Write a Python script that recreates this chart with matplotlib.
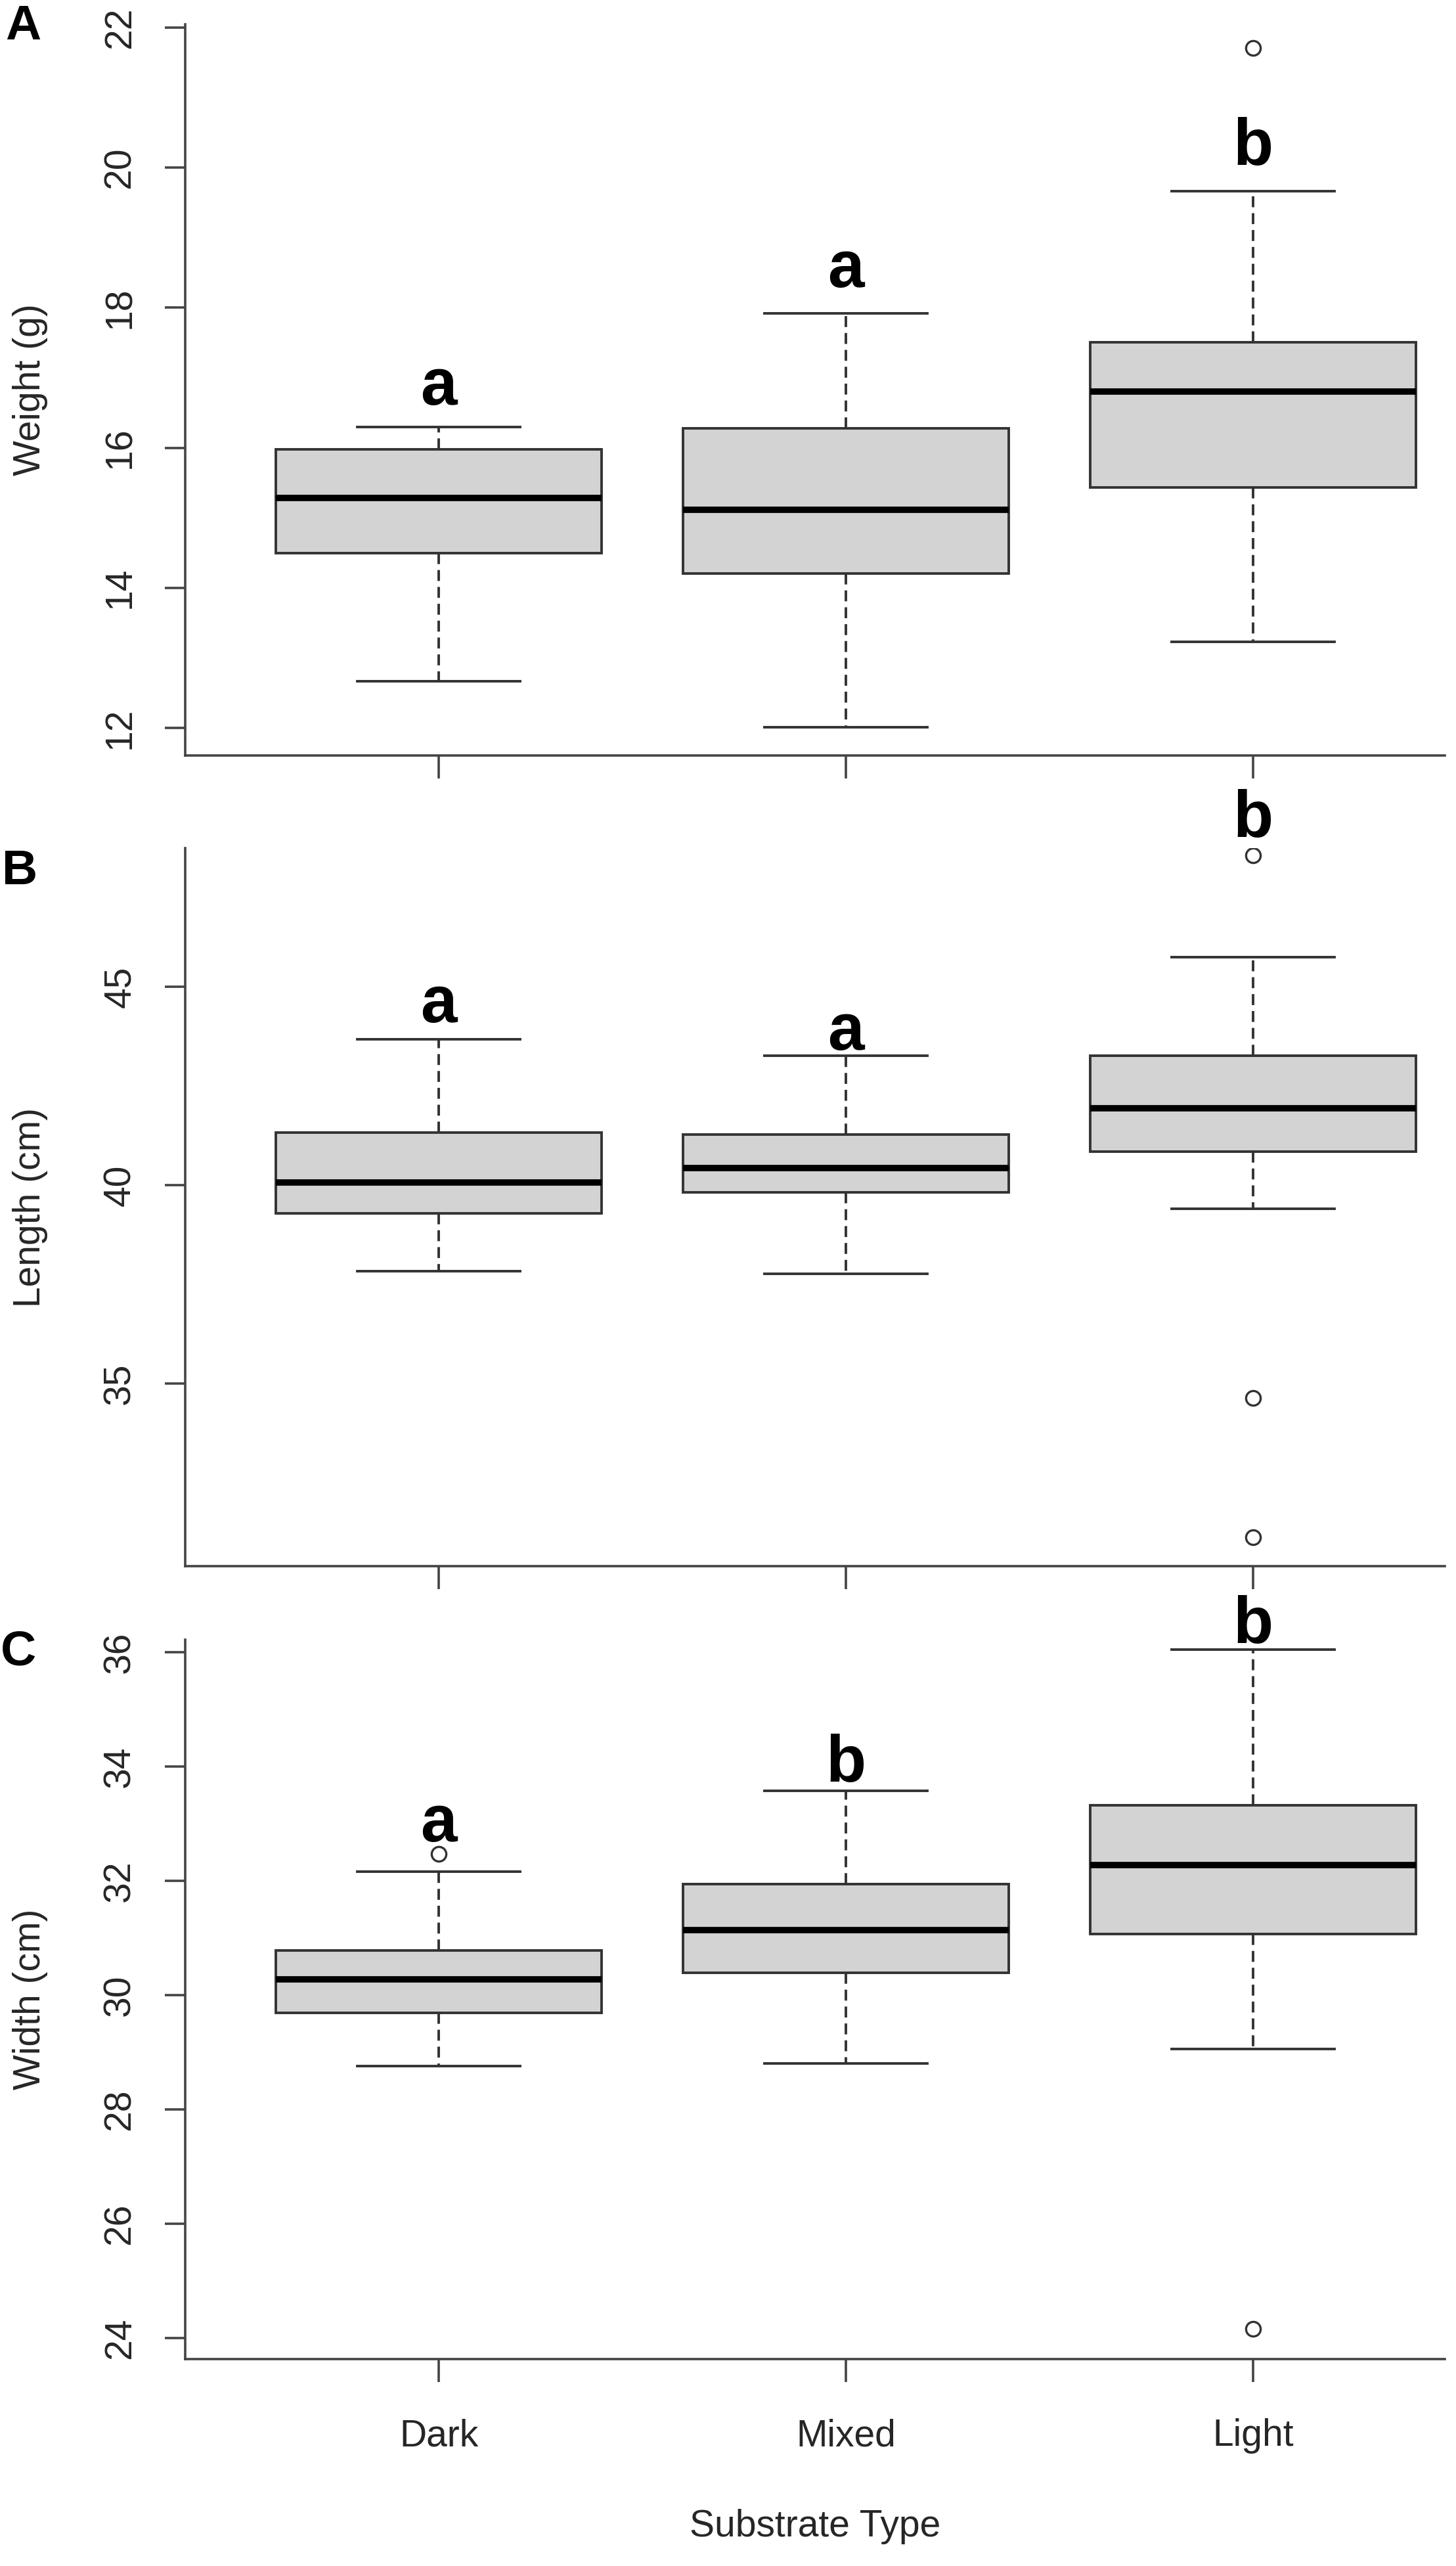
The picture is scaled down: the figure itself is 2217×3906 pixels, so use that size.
import matplotlib
matplotlib.use("Agg")
import matplotlib.pyplot as plt

plt.rcParams['font.family'] = ['Liberation Sans', 'DejaVu Sans']
plt.rcParams['lines.scale_dashes'] = False

# substrate groups
groups = ['Dark', 'Mixed', 'Light']

# box statistics: lower whisker, Q1, median, Q3, upper whisker
weight_lo = [12.67, 12.01, 13.23]
weight_q1 = [14.50, 14.20, 15.43]
weight_med = [15.28, 15.11, 16.80]
weight_q3 = [15.98, 16.28, 17.51]
weight_hi = [16.30, 17.92, 19.66]
weight_out = [[], [], [21.71]]
weight_letters = ['a', 'a', 'b']
weight_letter_y = [16.62, 18.29, 20.04]

length_lo = [37.83, 37.76, 39.41]
length_q1 = [39.29, 39.82, 40.85]
length_med = [40.07, 40.43, 41.94]
length_q3 = [41.33, 41.28, 43.26]
length_hi = [43.68, 43.26, 45.74]
length_out = [[], [], [48.31, 34.63, 31.13]]
length_letters = ['a', 'a', 'b']
length_letter_y = [44.11, 43.41, 48.77]

width_lo = [28.76, 28.80, 29.06]
width_q1 = [29.69, 30.39, 31.07]
width_med = [30.28, 31.14, 32.28]
width_q3 = [30.78, 31.94, 33.32]
width_hi = [32.16, 33.57, 36.05]
width_out = [[32.47], [], [24.16]]
width_letters = ['a', 'b', 'b']
width_letter_y = [32.69, 33.74, 36.16]

W, H = 2217, 3906
fig = plt.figure(figsize=(W / 100, H / 100), dpi=100)

AXIS_COL = '#444444'
TEXT_COL = '#262626'
LINE_COL = '#333333'


def add_panel(top_px, bottom_px, ylim, yticks, lo, q1, med, q3, hi, out,
              letters, letter_y, ylabel, tag, tag_xy, xlabels=False):
    left_px, right_px = 282, 2200
    ax = fig.add_axes([left_px / W, 1 - bottom_px / H,
                       (right_px - left_px) / W, (bottom_px - top_px) / H])
    stats = []
    for i in range(3):
        stats.append(dict(whislo=lo[i], q1=q1[i], med=med[i], q3=q3[i],
                          whishi=hi[i], fliers=out[i]))
    ax.bxp(stats, positions=[1, 2, 3], widths=0.8, capwidths=0.4,
           patch_artist=True,
           boxprops=dict(facecolor='#d3d3d3', edgecolor=LINE_COL, linewidth=2.8),
           whiskerprops=dict(color=LINE_COL, linewidth=2.8, linestyle=(0, (12, 6.5))),
           capprops=dict(color=LINE_COL, linewidth=2.8),
           medianprops=dict(color='black', linewidth=7, solid_capstyle='butt'),
           flierprops=dict(marker='o', markerfacecolor='none',
                           markeredgecolor=LINE_COL, markersize=16,
                           markeredgewidth=2.4))
    ax.set_xlim(0.377, 3.471)
    ax.set_ylim(*ylim)
    ax.set_yticks(yticks)
    ax.set_yticklabels([str(t) for t in yticks], rotation=90, va='center',
                       fontsize=41, color=TEXT_COL)
    ax.set_xticks([1, 2, 3])
    if xlabels:
        ax.set_xticklabels(groups, fontsize=41, color=TEXT_COL)
        ax.set_xlabel('Substrate Type', fontsize=41, color=TEXT_COL, labelpad=60)
    else:
        ax.set_xticklabels([])
    for s in ['top', 'right']:
        ax.spines[s].set_visible(False)
    for s in ['left', 'bottom']:
        ax.spines[s].set_color(AXIS_COL)
        ax.spines[s].set_linewidth(2.6)
    ax.tick_params(axis='y', length=22, width=2.6, color=AXIS_COL, pad=30)
    ax.tick_params(axis='x', length=25, width=2.6, color=AXIS_COL, pad=40)
    ax.set_ylabel(ylabel, fontsize=41, color=TEXT_COL, va='center')
    ax.yaxis.set_label_coords(-0.123, 0.5)
    for i in range(3):
        ax.text(i + 1, letter_y[i], letters[i], ha='center', va='baseline',
                fontsize=72, fontweight='bold', color='black', clip_on=False)
    fig.text(tag_xy[0] / W, 1 - tag_xy[1] / H, tag, ha='center', va='center',
             fontsize=54, fontweight='bold', color='black')
    return ax


add_panel(37, 1150, (11.606, 22.047), [12, 14, 16, 18, 20, 22],
          weight_lo, weight_q1, weight_med, weight_q3, weight_hi, weight_out,
          weight_letters, weight_letter_y, 'Weight (g)', 'A', (35, 40))
add_panel(1291, 2384, (30.40, 48.49), [35, 40, 45],
          length_lo, length_q1, length_med, length_q3, length_hi, length_out,
          length_letters, length_letter_y, 'Length (cm)', 'B', (30, 1327))
add_panel(2496, 3591, (23.63, 36.22), [24, 26, 28, 30, 32, 34, 36],
          width_lo, width_q1, width_med, width_q3, width_hi, width_out,
          width_letters, width_letter_y, 'Width (cm)', 'C', (28, 2515),
          xlabels=True)

fig.savefig('out.png', dpi=100, facecolor='white')
